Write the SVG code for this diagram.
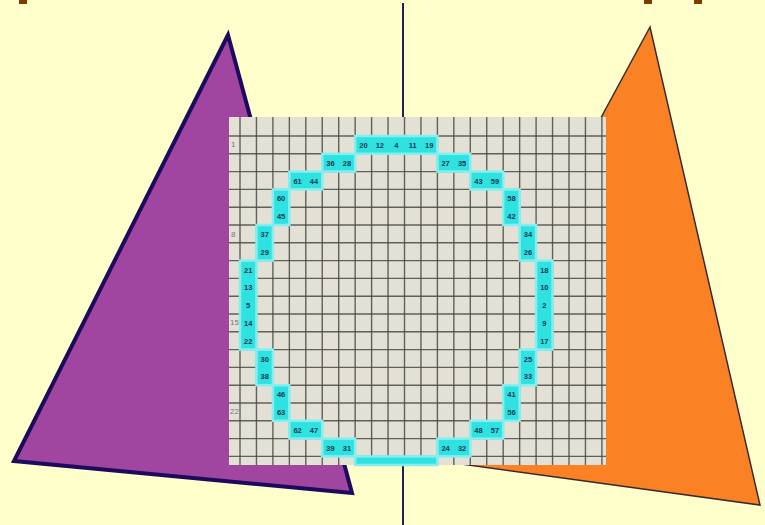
<svg xmlns="http://www.w3.org/2000/svg" width="765" height="525" viewBox="0 0 765 525">
<defs>
<style>
.gl{stroke:#4a4a45;stroke-width:1.4;fill:none;opacity:0.85}
.c{fill:#2fe2e2;stroke:#86eeee;stroke-width:2.5}
.t{font-family:"Liberation Sans",Arial,sans-serif;font-size:7.5px;font-weight:bold;fill:#0f3a50;text-anchor:middle}
.m{font-family:"Liberation Sans",Arial,sans-serif;font-size:8px;fill:#777770;text-anchor:start}
</style>
</defs>
<rect x="0" y="0" width="765" height="525" fill="#ffffcc"/>
<g id="title-marks" fill="#7a3c00">
<rect x="19" y="0" width="8" height="4"/>
<rect x="644" y="0" width="8" height="4"/>
<rect x="694" y="0" width="8" height="4"/>
</g>
<line x1="428" y1="5" x2="428" y2="16" stroke="#ffffff" stroke-width="1" opacity="0.8"/>
<g id="purple-triangle">
<polygon points="228,35 14,461 352,493" fill="#a045a0" stroke="#1c0a5c" stroke-width="4" stroke-linejoin="miter"/>
</g>
<g id="orange-triangle">
<polygon points="650,27 417,458 760,505" fill="#fb8224" stroke="#3a2a30" stroke-width="1.5"/>
</g>
<line id="axis" x1="403" y1="3" x2="403" y2="525" stroke="#1e2250" stroke-width="2"/>
<g id="grid">
<rect x="229" y="117" width="377" height="348" fill="#e3e1d6"/>
<path class="gl" d="M240 117V465M256.45 117V465M272.9 117V465M289.35 117V465M305.8 117V465M322.25 117V465M338.7 117V465M355.15 117V465M371.6 117V465M388.05 117V465M404.5 117V465M420.95 117V465M437.4 117V465M453.85 117V465M470.3 117V465M486.75 117V465M503.2 117V465M519.65 117V465M536.1 117V465M552.55 117V465M569 117V465M585.45 117V465M601.9 117V465"/>
<path class="gl" d="M229 136H606M229 153.8H606M229 171.6H606M229 189.4H606M229 207.2H606M229 225H606M229 242.8H606M229 260.6H606M229 278.4H606M229 296.2H606M229 314H606M229 331.8H606M229 349.6H606M229 367.4H606M229 385.2H606M229 403H606M229 420.8H606M229 438.6H606M229 456.4H606"/>
<text class="m" x="231" y="147">1</text>
<text class="m" x="231" y="237">8</text>
<text class="m" x="230" y="325">15</text>
<text class="m" x="230" y="414">22</text>
</g>
<g id="circle-cells">
<rect class="c" x="355.15" y="136" width="82.25" height="17.8"/>
<rect class="c" x="322.25" y="153.8" width="32.9" height="17.8"/>
<rect class="c" x="437.4" y="153.8" width="32.9" height="17.8"/>
<rect class="c" x="289.35" y="171.6" width="32.9" height="17.8"/>
<rect class="c" x="470.3" y="171.6" width="32.9" height="17.8"/>
<rect class="c" x="272.9" y="189.4" width="16.45" height="35.6"/>
<rect class="c" x="503.2" y="189.4" width="16.45" height="35.6"/>
<rect class="c" x="256.45" y="225" width="16.45" height="35.6"/>
<rect class="c" x="519.65" y="225" width="16.45" height="35.6"/>
<rect class="c" x="240" y="260.6" width="16.45" height="89"/>
<rect class="c" x="536.1" y="260.6" width="16.45" height="89"/>
<rect class="c" x="256.45" y="349.6" width="16.45" height="35.6"/>
<rect class="c" x="519.65" y="349.6" width="16.45" height="35.6"/>
<rect class="c" x="272.9" y="385.2" width="16.45" height="35.6"/>
<rect class="c" x="503.2" y="385.2" width="16.45" height="35.6"/>
<rect class="c" x="289.35" y="420.8" width="32.9" height="17.8"/>
<rect class="c" x="470.3" y="420.8" width="32.9" height="17.8"/>
<rect class="c" x="322.25" y="438.6" width="32.9" height="17.8"/>
<rect class="c" x="437.4" y="438.6" width="32.9" height="17.8"/>
<rect class="c" x="355.15" y="456.4" width="82.25" height="8.6" stroke="none"/>
</g>
<g id="cell-labels">
<text class="t" x="363.4" y="148">20</text><text class="t" x="379.8" y="148">12</text><text class="t" x="396.3" y="148">4</text><text class="t" x="412.7" y="148">11</text><text class="t" x="429.2" y="148">19</text>
<text class="t" x="330.5" y="165.8">36</text><text class="t" x="346.9" y="165.8">28</text><text class="t" x="445.6" y="165.8">27</text><text class="t" x="462.1" y="165.8">35</text>
<text class="t" x="297.6" y="183.6">61</text><text class="t" x="314" y="183.6">44</text><text class="t" x="478.5" y="183.6">43</text><text class="t" x="495" y="183.6">59</text>
<text class="t" x="281.1" y="201.4">60</text><text class="t" x="511.4" y="201.4">58</text>
<text class="t" x="281.1" y="219.2">45</text><text class="t" x="511.4" y="219.2">42</text>
<text class="t" x="264.7" y="237">37</text><text class="t" x="527.9" y="237">34</text>
<text class="t" x="264.7" y="254.8">29</text><text class="t" x="527.9" y="254.8">26</text>
<text class="t" x="248.2" y="272.6">21</text><text class="t" x="544.3" y="272.6">18</text>
<text class="t" x="248.2" y="290.4">13</text><text class="t" x="544.3" y="290.4">10</text>
<text class="t" x="248.2" y="308.2">5</text><text class="t" x="544.3" y="308.2">2</text>
<text class="t" x="248.2" y="326">14</text><text class="t" x="544.3" y="326">9</text>
<text class="t" x="248.2" y="343.8">22</text><text class="t" x="544.3" y="343.8">17</text>
<text class="t" x="264.7" y="361.6">30</text><text class="t" x="527.9" y="361.6">25</text>
<text class="t" x="264.7" y="379.4">38</text><text class="t" x="527.9" y="379.4">33</text>
<text class="t" x="281.1" y="397.2">46</text><text class="t" x="511.4" y="397.2">41</text>
<text class="t" x="281.1" y="415">63</text><text class="t" x="511.4" y="415">56</text>
<text class="t" x="297.6" y="432.8">62</text><text class="t" x="314" y="432.8">47</text><text class="t" x="478.5" y="432.8">48</text><text class="t" x="495" y="432.8">57</text>
<text class="t" x="330.5" y="450.6">39</text><text class="t" x="346.9" y="450.6">31</text><text class="t" x="445.6" y="450.6">24</text><text class="t" x="462.1" y="450.6">32</text>
</g>
</svg>
